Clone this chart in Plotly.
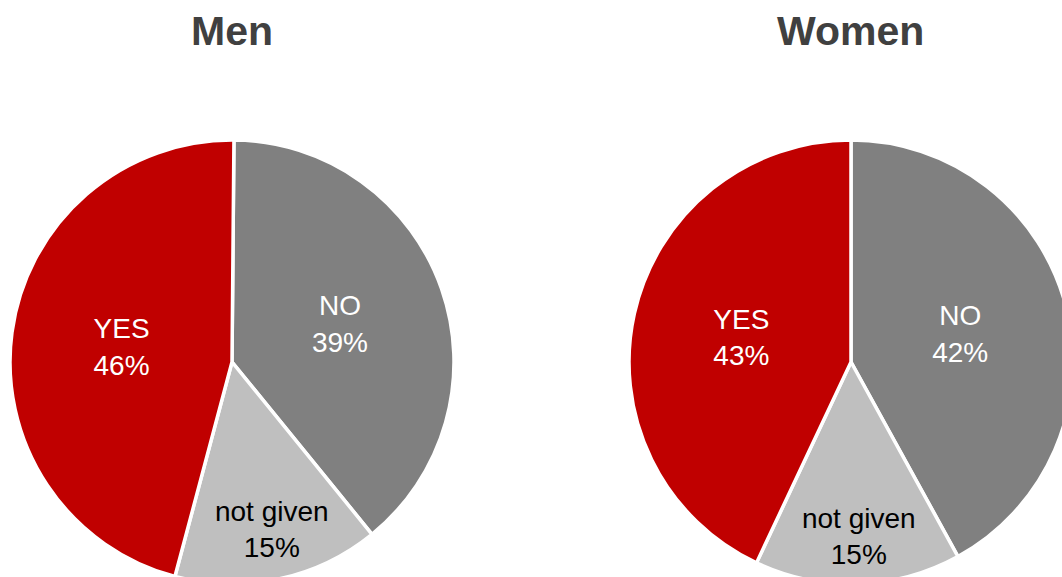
import plotly.graph_objects as go

# Survey answers by group (shares in %)
groups = ["Men", "Women"]
answers = ["NO", "not given", "YES"]
men_values = [39, 15, 46]
women_values = [42, 15, 43]

colors = ["#808080", "#BFBFBF", "#C00000"]
text_colors = ["white", "black", "white"]

NB = "\u00a0"
plain = "%{label}<br>%{value}%"
# the small bottom slice carries its label a little lower and to the right
shifted = NB * 2 + "%{label}<br>" + NB * 2 + "%{value}%"
men_templates = [plain, NB + "<br>" + shifted, plain]
women_templates = [plain, NB + "<br>" + NB + "<br>" + shifted + "<br>" + NB, plain]

W, H = 1080, 595

def dom_x(left, right):
    return [left / W, right / W]

def dom_y(top, bottom):
    return [(H - bottom) / H, (H - top) / H]

fig = go.Figure()

for name, vals, tmpl, (l, r), rot in [
        ("Men", men_values, men_templates, (10, 454), 0.5),
        ("Women", women_values, women_templates, (629, 1073), 0)]:
    fig.add_trace(go.Pie(
        labels=answers,
        values=vals,
        name=name,
        sort=False,
        direction="clockwise",
        rotation=rot,
        marker=dict(colors=colors, line=dict(color="white", width=3.5)),
        texttemplate=tmpl,
        textposition="inside",
        insidetextorientation="horizontal",
        textfont=dict(family="Liberation Sans, Arial, sans-serif", size=28,
                      color=text_colors),
        hoverinfo="label+value",
        showlegend=False,
        domain=dict(x=dom_x(l, r), y=dom_y(140, 584)),
    ))

for name, cx in [("Men", 232), ("Women", 850)]:
    fig.add_annotation(
        text="<b>%s</b>" % name, x=cx / W, y=(H - 31) / H,
        xref="paper", yref="paper", xanchor="center", yanchor="middle",
        showarrow=False,
        font=dict(family="Liberation Sans, Arial, sans-serif", size=41, color="#404040"),
    )

fig.update_layout(
    width=W, height=H,
    margin=dict(l=0, r=0, t=0, b=0),
    paper_bgcolor="white",
    plot_bgcolor="white",
    uniformtext=dict(minsize=28, mode="show"),
)

fig.write_html(
    "out.html",
    post_script="document.documentElement.style.overflow='hidden';"
                "document.body.style.overflow='hidden';",
)
